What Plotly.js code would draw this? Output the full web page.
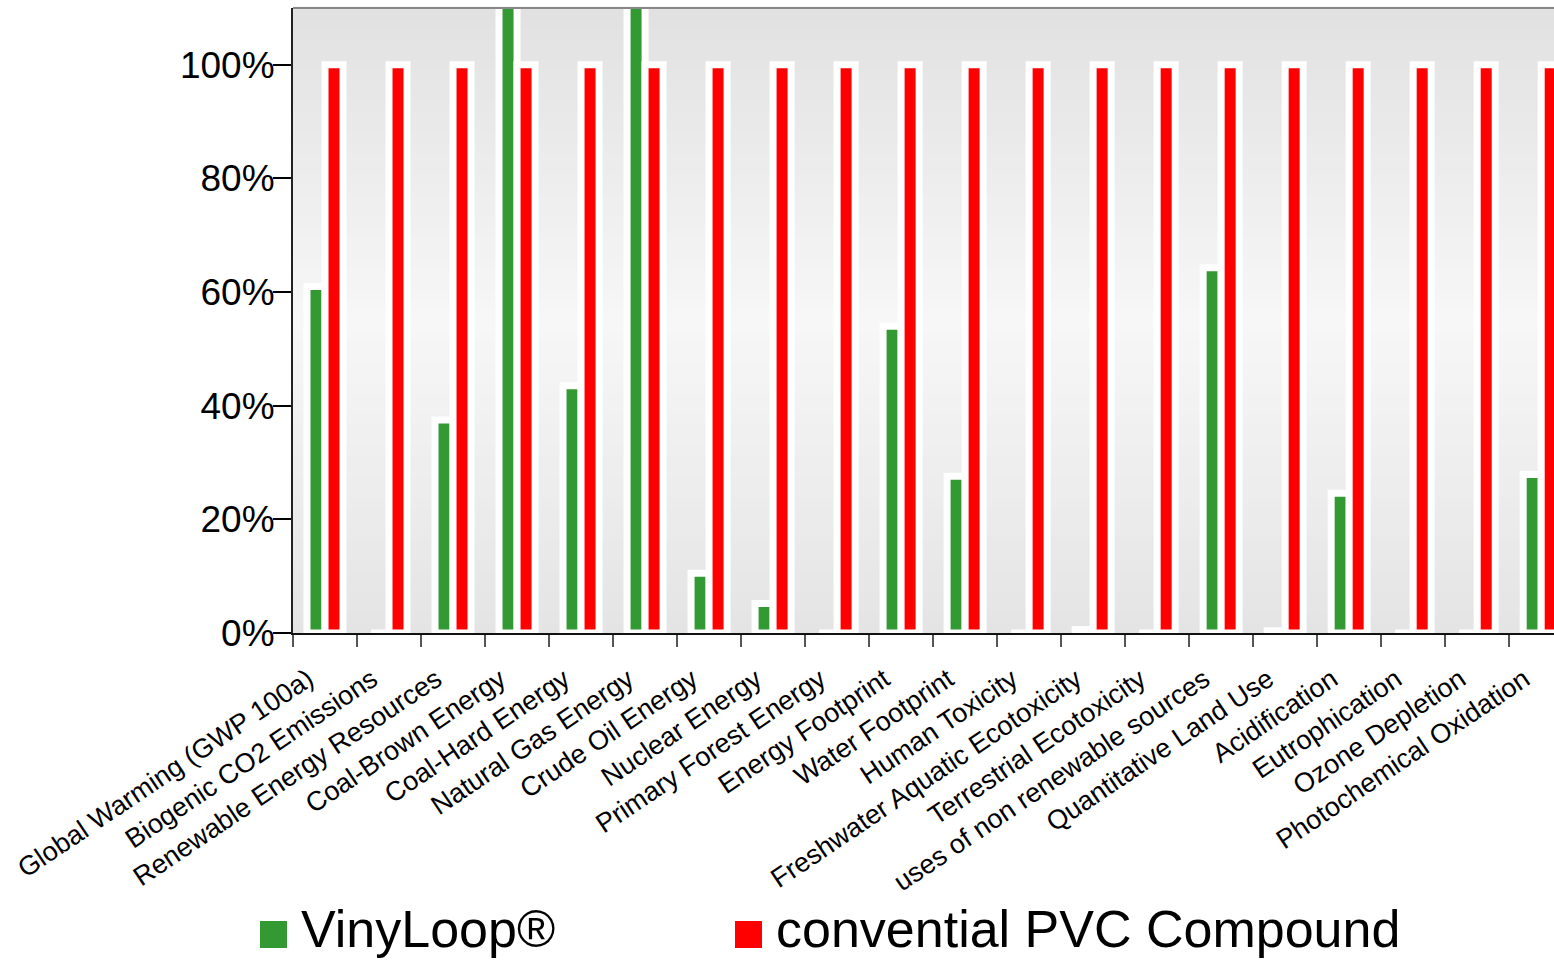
<!DOCTYPE html>
<html>
<head>
<meta charset="utf-8">
<script src="https://cdn.plot.ly/plotly-3.0.1.min.js"></script>
<style>html,body{margin:0;padding:0;background:#fff;}#chart{width:1554px;height:961px;}</style>
</head>
<body>
<div id="chart"></div>
<script>
const categories = [
  "Global Warming (GWP 100a)", "Biogenic CO2 Emissions", "Renewable Energy Resources",
  "Coal-Brown Energy", "Coal-Hard Energy", "Natural Gas Energy", "Crude Oil Energy",
  "Nuclear Energy", "Primary Forest Energy", "Energy Footprint", "Water Footprint",
  "Human Toxicity", "Freshwater Aquatic Ecotoxicity", "Terrestrial Ecotoxicity",
  "uses of non renewable sources", "Quantitative Land Use", "Acidification",
  "Eutrophication", "Ozone Depletion", "Photochemical Oxidation"
];
const seriesNames = ["VinyLoop®", "convential PVC Compound"];
const vinyloop = [61, 0, 37.5, 120, 43.5, 120, 10.5, 5.2, 0, 54, 27.6, 0, 0.6, 0, 64.3, 0.4, 24.6, 0, 0, 27.9];
const conventional = [100, 100, 100, 100, 100, 100, 100, 100, 100, 100, 100, 100, 100, 100, 100, 100, 100, 100, 100, 100];
const yTicks = [0, 20, 40, 60, 80, 100];
const yTickLabels = ["0%", "20%", "40%", "60%", "80%", "100%"];

const colors = ["#339933", "#ff0000"];
const FONT = "Liberation Sans, Arial, sans-serif";

const traces = [vinyloop, conventional].map((vals, i) => ({
  type: "bar",
  name: seriesNames[i],
  x: categories,
  y: vals,
  marker: {color: colors[i], line: {color: "#ffffff", width: 7}},
  showlegend: false,
  hoverinfo: "x+y+name"
}));

// background gradient bands
const shapes = [];
const N = 60;
function bgShade(f) { // f: 0 bottom -> 1 top
  const peak = 0.5;
  let v;
  if (f < peak) v = 228 + (247 - 228) * (f / peak);
  else v = 247 + (225 - 247) * ((f - peak) / (1 - peak));
  v = Math.round(v);
  return `rgb(${v},${v},${v})`;
}
for (let k = 0; k < N; k++) {
  const f0 = k / N, f1 = (k + 1) / N;
  shapes.push({type: "rect", xref: "paper", yref: "paper", x0: 0, x1: 1, y0: f0, y1: f1 + 0.002,
    fillcolor: bgShade((f0 + f1) / 2), line: {width: 0}, layer: "below"});
}
// top border
shapes.push({type: "line", xref: "paper", yref: "paper", x0: 0, x1: 1, y0: 1, y1: 1,
  line: {color: "#888888", width: 2}});

// manual legend (paper coordinates)
const W = 1261, H = 625, L = 293, B = 633;
function px(x) { return (x - L) / W; }
function py(y) { return (B - y) / H; }
const legendBoxes = [[260, 921, 287, 948], [735, 921, 762, 948]];
const legendTextX = [300, 775];
const annotations = [];
legendBoxes.forEach((b, i) => {
  shapes.push({type: "rect", xref: "paper", yref: "paper", x0: px(b[0]), x1: px(b[2]), y0: py(b[3]), y1: py(b[1]),
    fillcolor: colors[i], line: {width: 0}});
  annotations.push({xref: "paper", yref: "paper", x: px(legendTextX[i]), y: py(929), xanchor: "left", yanchor: "middle",
    borderpad: 0,
    text: seriesNames[i], showarrow: false, font: {family: FONT, size: 52, color: "#000"}});
});

const layout = {
  width: 1554, height: 961,
  margin: {l: 293, r: 0, t: 8, b: 328},
  paper_bgcolor: "#ffffff",
  plot_bgcolor: "#e8e8e8",
  barmode: "group",
  bargap: 0.4375,
  bargroupgap: 0,
  font: {family: FONT, color: "#000"},
  xaxis: {
    type: "category",
    range: [-0.5, 19.2],
    showgrid: false, zeroline: false,
    showline: true, linecolor: "#111", linewidth: 2,
    ticks: "outside", ticklen: 12, tickcolor: "#555", tickwidth: 2,
    tickson: "boundaries",
    tickangle: -34,
    ticklabelstandoff: 18,
    ticklabelshift: -17,
    tickfont: {family: FONT, size: 27, color: "#000"},
    automargin: false
  },
  yaxis: {
    range: [0, 110],
    tickvals: yTicks, ticktext: yTickLabels,
    showgrid: false, zeroline: false,
    showline: true, linecolor: "#222", linewidth: 2,
    ticks: "outside", ticklen: 18, tickcolor: "#000", tickwidth: 2,
    ticklabelstandoff: -9,
    tickfont: {family: FONT, size: 37, color: "#000"},
    automargin: false
  },
  shapes: shapes,
  annotations: annotations,
  showlegend: false
};

Plotly.newPlot("chart", traces, layout, {displayModeBar: false, responsive: false});
</script>
</body>
</html>
